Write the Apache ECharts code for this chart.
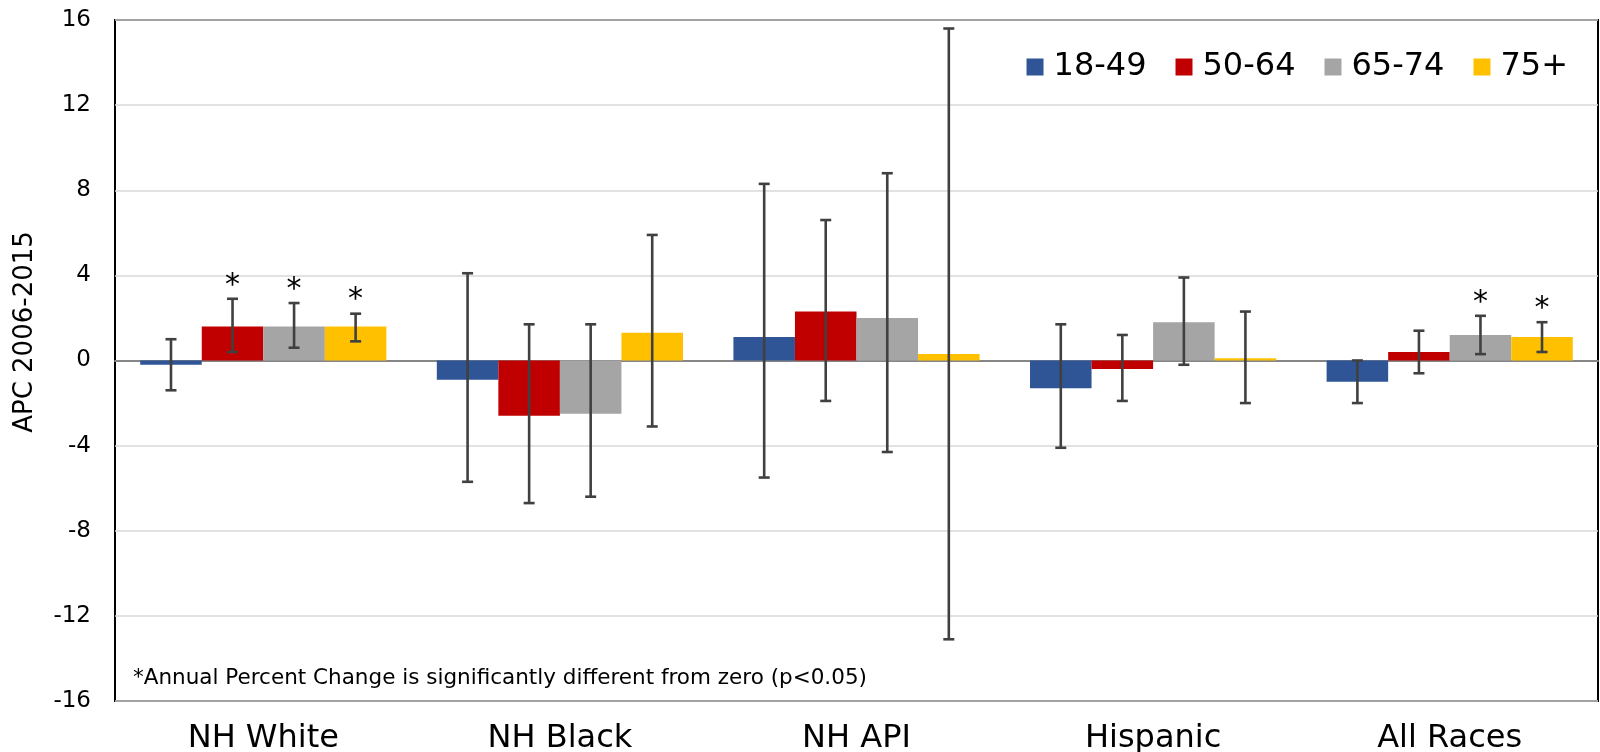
<!DOCTYPE html>
<html>
<head>
<meta charset="utf-8">
<title>APC 2006-2015 by race and age group</title>
<script src="https://cdn.jsdelivr.net/npm/echarts@6/dist/echarts.min.js"></script>
<style>
  html, body { margin: 0; padding: 0; background: #fff; }
  #chart { width: 1600px; height: 752px; }
</style>
</head>
<body>
<div id="chart"></div>
<script>
// Categories and age groups
const categories = ['NH White', 'NH Black', 'NH API', 'Hispanic', 'All Races'];
const ageGroups = ['18-49', '50-64', '65-74', '75+'];

// Annual percent change, 2006-2015
const apc_18_49 = [-0.2, -0.9, 1.1, -1.3, -1.0];
const apc_50_64 = [1.6, -2.6, 2.3, -0.4, 0.4];
const apc_65_74 = [1.6, -2.5, 2.0, 1.8, 1.2];
const apc_75plus = [1.6, 1.3, 0.3, 0.1, 1.1];

// 95% confidence limits
const lower_18_49 = [-1.4, -5.7, -5.5, -4.1, -2.0];
const upper_18_49 = [1.0, 4.1, 8.3, 1.7, 0.0];
const lower_50_64 = [0.4, -6.7, -1.9, -1.9, -0.6];
const upper_50_64 = [2.9, 1.7, 6.6, 1.2, 1.4];
const lower_65_74 = [0.6, -6.4, -4.3, -0.2, 0.3];
const upper_65_74 = [2.7, 1.7, 8.8, 3.9, 2.1];
const lower_75plus = [0.9, -3.1, -13.1, -2.0, 0.4];
const upper_75plus = [2.2, 5.9, 15.6, 2.3, 1.8];

// Significantly different from zero (p<0.05)
const sig_18_49 = [0, 0, 0, 0, 0];
const sig_50_64 = [1, 0, 0, 0, 0];
const sig_65_74 = [1, 0, 0, 0, 1];
const sig_75plus = [1, 0, 0, 0, 1];

// Y axis ticks
const yMin = -16, yMax = 16, yStep = 4;
const yTitle = 'APC 2006-2015';
const footnote = '*Annual Percent Change is significantly different from zero (p<0.05)';

const colors = ['#2F5597', '#C00000', '#A5A5A5', '#FFC000'];
const values = [apc_18_49, apc_50_64, apc_65_74, apc_75plus];
const lowers = [lower_18_49, lower_50_64, lower_65_74, lower_75plus];
const uppers = [upper_18_49, upper_50_64, upper_65_74, upper_75plus];
const sigs = [sig_18_49, sig_50_64, sig_65_74, sig_75plus];

const FONT = '"DejaVu Sans", Verdana, sans-serif';
const CAT_GAP = 0.17;
const nGroups = ageGroups.length;

// Error bars with caps, plus a significance star above the upper cap
function errorRenderer(k) {
  return function (params, api) {
    const idx = api.value(0);
    const lo = api.value(1);
    const hi = api.value(2);
    const sig = api.value(3);
    const band = api.size([1, 0])[0];
    const groupW = band * (1 - CAT_GAP);
    const barW = groupW / nGroups;
    const cx = api.coord([idx, 0])[0] - groupW / 2 + barW * (k + 0.5);
    const yHi = api.coord([idx, hi])[1];
    const yLo = api.coord([idx, lo])[1];
    const cap = 5.5;
    const st = { stroke: '#404040', lineWidth: 2.6 };
    const children = [
      { type: 'line', shape: { x1: cx, y1: yHi, x2: cx, y2: yLo }, style: st },
      { type: 'line', shape: { x1: cx - cap, y1: yHi, x2: cx + cap, y2: yHi }, style: st },
      { type: 'line', shape: { x1: cx - cap, y1: yLo, x2: cx + cap, y2: yLo }, style: st }
    ];
    if (sig) {
      children.push({
        type: 'text',
        style: {
          text: '*', x: cx, y: yHi + 2,
          align: 'center', verticalAlign: 'bottom',
          font: '30px ' + FONT, fill: '#000'
        }
      });
    }
    return { type: 'group', children: children };
  };
}

const barSeries = ageGroups.map(function (name, k) {
  return {
    name: name,
    type: 'bar',
    data: values[k],
    barGap: '0%',
    barCategoryGap: (CAT_GAP * 100) + '%',
    itemStyle: { color: colors[k] },
    z: 2
  };
});

const errorSeries = ageGroups.map(function (name, k) {
  return {
    name: name + ' limits',
    type: 'custom',
    renderItem: errorRenderer(k),
    data: categories.map(function (c, i) { return [i, lowers[k][i], uppers[k][i], sigs[k][i]]; }),
    encode: { x: 0, y: [1, 2] },
    z: 5,
    silent: true
  };
});

const chart = echarts.init(document.getElementById('chart'), null, { renderer: 'canvas' });
chart.setOption({
  animation: false,
  backgroundColor: '#fff',
  textStyle: { fontFamily: FONT },
  grid: {
    left: 115, right: 2, top: 20, bottom: 51,
    outerBoundsMode: 'none',
    show: true, borderColor: '#000', borderWidth: 2, backgroundColor: 'transparent'
  },
  legend: {
    data: ageGroups,
    right: 27, top: 46,
    icon: 'rect', itemWidth: 17, itemHeight: 17, itemGap: 29,
    textStyle: { fontSize: 32, color: '#000', fontFamily: FONT, padding: [0, 0, 0, 5] }
  },
  xAxis: {
    type: 'category',
    data: categories,
    axisLine: { show: true, onZero: true, lineStyle: { color: '#868686', width: 1.8 } },
    axisTick: { show: false },
    axisLabel: { fontSize: 32, color: '#000', margin: 22, fontFamily: FONT },
    splitLine: { show: false }
  },
  yAxis: {
    type: 'value',
    min: yMin, max: yMax, interval: yStep,
    axisLine: { show: false },
    axisTick: { show: false },
    axisLabel: { fontSize: 23, color: '#000', margin: 24, fontFamily: FONT },
    splitLine: { show: true, lineStyle: { color: '#D9D9D9', width: 1.5 } }
  },
  graphic: [{
    type: 'text',
    x: 25, y: 332,
    rotation: Math.PI / 2,
    style: { text: yTitle, font: '26px ' + FONT, fill: '#000', align: 'center', verticalAlign: 'middle' }
  }, {
    type: 'text',
    left: 133, top: 667,
    style: { text: footnote, font: '21.5px ' + FONT, fill: '#000' }
  }],
  series: barSeries.concat(errorSeries)
});
</script>
</body>
</html>
